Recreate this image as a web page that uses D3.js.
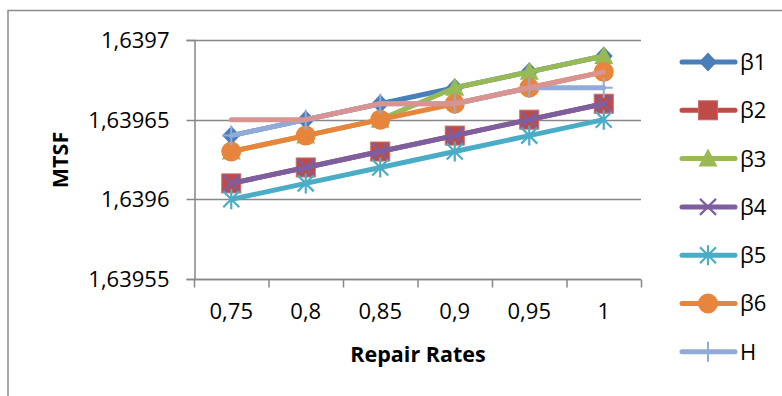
<!DOCTYPE html>
<html>
<head>
<meta charset="utf-8">
<script src="https://cdn.jsdelivr.net/npm/d3@7"></script>
<style>
  html, body { margin: 0; padding: 0; background: #fff; }
  svg { display: block; }
  text { font-family: "Open Sans", "Liberation Sans", sans-serif; fill: #000; }
</style>
</head>
<body>
<svg id="chart" width="782" height="396"></svg>
<script>
// Repair rate categories on the x axis
const categories = ["0,75", "0,8", "0,85", "0,9", "0,95", "1"];

// MTSF values per series
const beta1 = [1.63964, 1.63965, 1.63966, 1.63967, 1.63968, 1.63969];
const beta2 = [1.63961, 1.63962, 1.63963, 1.63964, 1.63965, 1.63966];
const beta3 = [1.63963, 1.63964, 1.63965, 1.63967, 1.63968, 1.63969];
const beta4 = [1.63961, 1.63962, 1.63963, 1.63964, 1.63965, 1.63966];
const beta5 = [1.6396, 1.63961, 1.63962, 1.63963, 1.63964, 1.63965];
const beta6 = [1.63963, 1.63964, 1.63965, 1.63966, 1.63967, 1.63968];
const hValues = [1.63964, 1.63965, 1.63966, 1.63966, 1.63967, 1.63967];
const series8 = [1.63965, 1.63965, 1.63966, 1.63966, 1.63967, 1.63968];

// Y axis ticks and their labels
const yTicks = [1.63955, 1.6396, 1.63965, 1.6397];
const yTickLabels = ["1,63955", "1,6396", "1,63965", "1,6397"];

const seriesNames = ["β1", "β2", "β3", "β4", "β5", "β6", "H", null];
const seriesData = [beta1, beta2, beta3, beta4, beta5, beta6, hValues, series8];
const seriesColors = ["#4a7ebb", "#be4b48", "#98b954", "#7d5fa0", "#4bacc6", "#e8853c", "#92aad6", "#d99492"];
const seriesMarkers = ["diamond", "square", "triangle", "x", "star", "circle", "plus", "none"];

const svg = d3.select("#chart");

// outer chart frame (only left and top edges fall inside the view)
svg.append("path")
  .attr("d", "M8,400 L8,10.5 L790,10.5")
  .attr("fill", "none").attr("stroke", "#8c8c8c").attr("stroke-width", 1.5);

const plot = { left: 194, right: 641, top: 40, bottom: 279 };

const x = d3.scaleBand().domain(categories).range([plot.left, plot.right]);
const y = d3.scaleLinear().domain([1.63955, 1.6397]).range([plot.bottom, plot.top]);
const cx = c => x(c) + x.bandwidth() / 2;

const gridColor = "#878787";

// horizontal gridlines
svg.append("g").selectAll("line").data(yTicks).join("line")
  .attr("x1", plot.left).attr("x2", plot.right)
  .attr("y1", d => Math.round(y(d)) + 0.5).attr("y2", d => Math.round(y(d)) + 0.5)
  .attr("stroke", gridColor).attr("stroke-width", 1.5);

// y axis
const yAxis = d3.axisLeft(y).tickValues(yTicks)
  .tickFormat((d, i) => yTickLabels[i]).tickSize(8).tickPadding(17);
const gy = svg.append("g").attr("transform", `translate(${plot.left + 0.5},0)`).call(yAxis);
gy.select(".domain").attr("stroke", gridColor).attr("stroke-width", 1.5);
gy.selectAll(".tick line").attr("stroke", gridColor).attr("stroke-width", 1.5);
gy.selectAll(".tick").attr("transform", d => `translate(0,${Math.round(y(d)) + 0.5})`);
gy.selectAll("text").style("font-family", "Open Sans").style("font-size", "22px").attr("fill", "#000").attr("dy", "0.35em");

// x axis: ticks between categories, labels centred under each category
const gx = svg.append("g").attr("transform", `translate(0,${Math.round(y(1.63955)) + 0.5})`);
gx.append("line").attr("x1", plot.left).attr("x2", plot.right)
  .attr("stroke", gridColor).attr("stroke-width", 1.5);
const edges = categories.map(c => x(c)).concat([x.range()[1]]);
gx.selectAll("line.tk").data(edges).join("line").attr("class", "tk")
  .attr("x1", d => d + 0.5).attr("x2", d => d + 0.5).attr("y1", 0).attr("y2", 8)
  .attr("stroke", gridColor).attr("stroke-width", 1.5);
gx.selectAll("text").data(categories).join("text")
  .attr("x", d => cx(d)).attr("y", 39)
  .attr("text-anchor", "middle").style("font-size", "22px")
  .text(d => d);

// axis titles
svg.append("text").attr("x", 418).attr("y", 362).attr("text-anchor", "middle")
  .style("font-size", "21.5px").style("font-weight", "bold").text("Repair Rates");
svg.append("text").attr("transform", "translate(68,160) rotate(-90)")
  .attr("text-anchor", "middle").style("font-size", "21.5px").style("font-weight", "bold").text("MTSF");

// marker drawing
function drawMarker(g, type, color) {
  if (type === "diamond") {
    g.append("path").attr("d", "M0,-9.5 L9,0 L0,9.5 L-9,0 Z").attr("fill", color);
  } else if (type === "square") {
    g.append("rect").attr("x", -9.5).attr("y", -9.5).attr("width", 19).attr("height", 19)
      .attr("fill", color).attr("stroke", "#c86a68").attr("stroke-width", 1);
  } else if (type === "triangle") {
    g.append("path").attr("d", "M0,-10 L9.5,8 L-9.5,8 Z").attr("fill", color);
  } else if (type === "circle") {
    g.append("circle").attr("r", 10).attr("fill", color);
  } else if (type === "x") {
    g.append("path").attr("d", "M-8,-8 L8,8 M-8,8 L8,-8").attr("stroke", color).attr("stroke-width", 2.2);
  } else if (type === "star") {
    g.append("path").attr("d", "M-8,-8 L8,8 M-8,8 L8,-8 M0,-10 L0,10").attr("stroke", color).attr("stroke-width", 2.2);
  } else if (type === "plus") {
    g.append("path").attr("d", "M0,-10 L0,10 M-9,0 L9,0").attr("stroke", color).attr("stroke-width", 2);
  }
}

// series lines with markers, drawn in order so later series sit on top
const line = d3.line().x((d, i) => cx(categories[i])).y(d => y(d));
seriesData.forEach((vals, s) => {
  const g = svg.append("g");
  g.append("path").attr("d", line(vals))
    .attr("fill", "none").attr("stroke", seriesColors[s]).attr("stroke-width", 5)
    .attr("stroke-linecap", "round").attr("stroke-linejoin", "round");
  vals.forEach((v, i) => {
    const m = g.append("g").attr("transform", `translate(${cx(categories[i])},${y(v)})`);
    drawMarker(m, seriesMarkers[s], seriesColors[s]);
  });
});

// legend
const legend = svg.append("g");
seriesNames.forEach((name, i) => {
  if (name === null) return;
  const ly = 62 + i * 48.3;
  const g = legend.append("g").attr("transform", `translate(0,${ly})`);
  g.append("line").attr("x1", 682).attr("x2", 735).attr("y1", 0).attr("y2", 0)
    .attr("stroke", seriesColors[i]).attr("stroke-width", 5).attr("stroke-linecap", "round");
  const m = g.append("g").attr("transform", "translate(708,0)");
  drawMarker(m, seriesMarkers[i], seriesColors[i]);
  g.append("text").attr("x", 740).attr("y", 0).attr("dy", "0.36em")
    .style("font-size", "22px").text(name);
});
</script>
</body>
</html>
